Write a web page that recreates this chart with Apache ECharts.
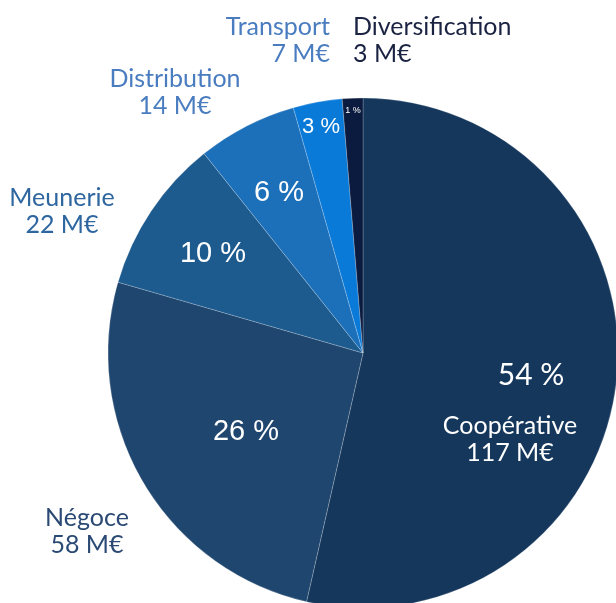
<!DOCTYPE html>
<html>
<head>
<meta charset="utf-8">
<script src="https://cdn.jsdelivr.net/npm/echarts@6/dist/echarts.min.js"></script>
<style>
  html, body { margin: 0; padding: 0; background: #fff; }
  #chart { width: 616px; height: 603px; }
</style>
</head>
<body>
<div id="chart"></div>
<script>
// données
var names = ['Coopérative', 'Négoce', 'Meunerie', 'Distribution', 'Transport', 'Diversification'];
var amounts = [117, 58, 22, 14, 7, 3];           // M€ (texte)
var shares = [53.5, 25.9, 9.8, 6.3, 3.1, 1.3];
var pctLabels = ['54 %', '26 %', '10 %', '6 %', '3 %', '1 %'];

// styles
var sliceColors = ['#15375c', '#1f466f', '#1d5b8f', '#1c6fb9', '#0a7ad9', '#0b1b3f'];
var nameColors = ['#ffffff', '#2a4a75', '#2e66a0', '#4a7cc0', '#4a7cc0', '#1b2342'];
var pctSizes = [30, 29, 29, 29, 22, 9];
var pctFonts = ['Lato', 'Liberation Sans', 'Liberation Sans', 'Liberation Sans', 'Liberation Sans', 'Liberation Sans'];
// positions des étiquettes
var pctPos = [[531, 375], [246, 432], [213, 254], [279, 193], [321, 127], [353, 111]];
var namePos = [[510, 439, 'center'], [87, 531, 'center'], [62, 211, 'center'], [175, 92, 'center'], [330, 40, 'right'], [353, 40, 'left']];

var center = [363, 353];
var radius = 255;

var myChart = echarts.init(document.getElementById('chart'));

var pieData = [];
var nameData = [];
for (var i = 0; i < names.length; i++) {
    pieData.push({
        name: names[i],
        value: shares[i],
        itemStyle: { color: sliceColors[i] },
        label: { fontSize: pctSizes[i], fontFamily: pctFonts[i] }
    });
    nameData.push({
        name: names[i],
        value: shares[i],
        label: { color: nameColors[i] }
    });
}

myChart.setOption({
    animation: false,
    series: [{
        type: 'pie',
        center: center,
        radius: radius,
        startAngle: 90,
        clockwise: true,
        silent: true,
        data: pieData,
        itemStyle: {
            borderColor: 'rgba(255,255,255,0.35)',
            borderWidth: 0.6
        },
        label: {
            show: true,
            position: 'inside',
            color: '#ffffff',
            formatter: function (p) { return pctLabels[p.dataIndex]; }
        },
        labelLine: { show: false },
        labelLayout: function (p) {
            var pos = pctPos[p.dataIndex];
            return { x: pos[0], y: pos[1], align: 'center', verticalAlign: 'middle' };
        }
    }, {
        type: 'pie',
        center: center,
        radius: radius,
        startAngle: 90,
        clockwise: true,
        silent: true,
        data: nameData,
        itemStyle: { color: 'rgba(0,0,0,0)', borderWidth: 0 },
        label: {
            show: true,
            position: 'inside',
            fontFamily: 'Lato',
            fontSize: 25,
            lineHeight: 27,
            formatter: function (p) { return p.name + '\n' + amounts[p.dataIndex] + ' M€'; }
        },
        labelLine: { show: false },
        labelLayout: function (p) {
            var pos = namePos[p.dataIndex];
            return { x: pos[0], y: pos[1], align: pos[2], verticalAlign: 'middle' };
        }
    }]
});
</script>
</body>
</html>
